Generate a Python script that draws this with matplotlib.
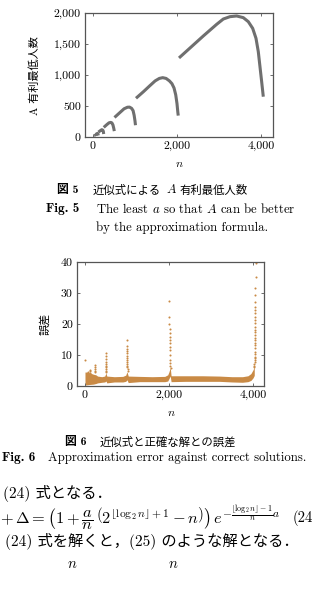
"""
図5・図6 の再現（近似式による A 有利最低人数 / 近似式と正確な解との誤差）
"""

import matplotlib
matplotlib.use("Agg")
import matplotlib.pyplot as plt

W, H = 313, 589

plt.rcParams['mathtext.fontset'] = 'cm'
plt.rcParams['axes.formatter.use_mathtext'] = True

ROMAN = ['cmr10', 'Noto Sans CJK JP']
BOLD = ['cmb10', 'Noto Sans CJK JP']
CJK = ['Noto Sans CJK JP', 'cmr10']

# ---- 図5 データ：各区間 [2^k, 2^(k+1)) の A 有利最低人数 ----
n_32 = [32, 45, 55, 62]
a_32 = [20, 26, 27, 12]
n_64 = [64, 85, 105, 118, 127]
a_64 = [39, 50, 58, 50, 24]
n_128 = [128, 170, 210, 232, 246, 255]
a_128 = [78, 100, 118, 112, 92, 48]
n_256 = [256, 330, 380, 420, 450, 475, 495, 508]
a_256 = [155, 200, 228, 236, 228, 195, 140, 95]
n_512 = [512, 650, 740, 820, 870, 920, 955, 980, 1000, 1012]
a_512 = [315, 400, 455, 480, 482, 462, 425, 350, 260, 190]
n_1024 = [1024, 1200, 1350, 1480, 1580, 1660, 1740, 1820, 1880, 1930, 1970, 2000, 2020, 2030]
a_1024 = [625, 730, 825, 905, 945, 957, 945, 905, 860, 790, 680, 540, 400, 345]
n_2048 = [2048, 2626, 2944, 3103, 3262, 3421, 3579, 3698, 3802, 3881, 3936, 3976, 4016, 4055]
a_2048 = [1275, 1629, 1817, 1903, 1941, 1952, 1925, 1860, 1753, 1592, 1376, 1134, 892, 650]
segments = [(n_32, a_32), (n_64, a_64), (n_128, a_128), (n_256, a_256),
            (n_512, a_512), (n_1024, a_1024), (n_2048, a_2048)]

# ---- 図6 データ：誤差の帯（下限・上限）と 2^k 直前の立ち上がり ----
band_n = [0, 60, 120, 200, 260, 300, 400, 470, 500, 520, 700, 900, 970, 1000,
          1030, 1300, 1600, 1900, 1970, 2000, 2030, 2050, 2400, 2800, 3200,
          3500, 3750, 3880, 3950, 4000, 4030]
band_lo = [0.3, 0.4, 0.5, 0.6, 0.8, 1.0, 1.2, 1.3, 1.6, 1.0, 1.3, 1.3, 1.5, 2.0,
           1.1, 1.4, 1.4, 1.4, 1.6, 2.4, 3.2, 1.4, 1.5, 1.5, 1.5,
           1.3, 1.2, 1.4, 1.8, 2.6, 3.4]
band_hi = [4.5, 4.5, 4.2, 3.8, 3.6, 3.2, 3.0, 3.2, 4.2, 3.2, 3.0, 3.1, 3.5, 4.6,
           3.2, 3.1, 3.0, 3.1, 3.6, 4.6, 6.0, 3.3, 3.3, 3.3, 3.2,
           3.0, 3.0, 3.3, 4.0, 5.2, 6.2]

spike_n = ([10] + [64, 66] + [120, 122, 124] + [236, 238, 240, 242, 244]
           + [496, 498, 500, 502, 504, 505, 506, 507, 508, 509]
           + [990, 992, 994, 996, 998, 1000, 1002, 1004, 1006, 1008, 1010, 1012, 1014, 1016]
           + [2008, 2010, 2012, 2014, 2016, 2018, 2020, 2022, 2024, 2026, 2028, 2030, 2032, 2034, 2036]
           + [4080, 4060, 4058, 4056, 4054, 4052, 4050, 4050, 4048, 4048, 4046, 4046, 4045,
              4044, 4044, 4043, 4042, 4042, 4041, 4040, 4040, 4039, 4038, 4038, 4037,
              4036, 4035, 4034, 4033])
spike_err = ([8.4] + [4.6, 4.0] + [5.3, 4.8, 4.3] + [6.8, 6.0, 5.4, 4.9, 4.4]
             + [10.5, 9.6, 8.7, 7.9, 7.2, 6.6, 6.0, 5.4, 4.9, 4.4]
             + [14.8, 12.8, 12.0, 11.3, 10.6, 9.8, 9.1, 8.5, 7.8, 7.2, 6.6, 6.0, 5.4, 4.8]
             + [27.5, 22.4, 20.0, 18.4, 17.0, 15.7, 14.8, 13.8, 12.7, 11.6, 10.0, 8.4, 7.4, 6.5, 5.8]
             + [39.8, 35.3, 31.5, 29.4, 27.2, 25.6, 24.5, 23.5, 22.4, 21.3, 20.2, 19.1, 18.1,
                17.3, 16.5, 15.6, 14.8, 14.0, 13.2, 12.2, 11.1, 10.2, 9.4, 8.9, 8.3,
                7.8, 7.2, 6.6, 6.0])

x_ticks = [0, 2000, 4000]
x_ticklabels = ['0', '2,000', '4,000']
y1_ticks = [0, 500, 1000, 1500, 2000]
y1_ticklabels = ['0', '500', '1,000', '1,500', '2,000']
y2_ticks = [0, 10, 20, 30, 40]
y2_ticklabels = ['0', '10', '20', '30', '40']

LINE_GRAY = '#6f6f6f'
ORANGE = '#c98a45'
FRAME = '#555555'


def fx(x):
    return x / W


def fy(y):
    return 1 - y / H


def style_axes(ax, yticks, yticklabels):
    ax.set_xticks(x_ticks)
    ax.set_xticklabels(x_ticklabels, family=ROMAN, fontsize=8.5)
    ax.set_yticks(yticks)
    ax.set_yticklabels(yticklabels, family=ROMAN, fontsize=8.5)
    ax.tick_params(direction='in', length=2.5, width=0.6, color=FRAME,
                   top=True, right=True, pad=3)
    for s in ax.spines.values():
        s.set_color(FRAME)
        s.set_linewidth(0.9)


fig = plt.figure(figsize=(W / 100, H / 100), dpi=100)
fig.patch.set_facecolor('white')

# 図5
ax1 = fig.add_axes([fx(85), fy(137), (273 - 85) / W, 124 / H])
for n_seg, a_seg in segments:
    ax1.plot(n_seg, a_seg, color=LINE_GRAY, lw=2.2, solid_capstyle='butt')
ax1.set_xlim(-190, 4286)
ax1.set_ylim(0, 2000)
style_axes(ax1, y1_ticks, y1_ticklabels)

fig.text(fx(35), fy(76), 'A 有利最低人数', rotation=90, ha='center', va='center',
         family=ROMAN, fontsize=8)
fig.text(fx(179), fy(163), '$n$', ha='center', va='center', fontsize=8.5)

# 図6
ax2 = fig.add_axes([fx(77), fy(386), (264 - 77) / W, 124 / H])
ax2.fill_between(band_n, band_lo, band_hi, color=ORANGE, lw=0)
ax2.scatter(spike_n, spike_err, s=2.2, color=ORANGE, lw=0, clip_on=False)
ax2.set_xlim(-190, 4262)
ax2.set_ylim(0, 40)
style_axes(ax2, y2_ticks, y2_ticklabels)

fig.text(fx(45), fy(324), '誤差', rotation=90, ha='center', va='center',
         family=CJK, fontsize=8)
fig.text(fx(171), fy(413), '$n$', ha='center', va='center', fontsize=8.5)

# キャプション
fig.text(fx(57), fy(190), '図 5', family=BOLD, fontweight='bold', fontsize=8.5, va='center')
fig.text(fx(93), fy(190), '近似式による', family=CJK, fontsize=8.2, va='center')
fig.text(fx(166), fy(190), '$A$', fontsize=9, va='center')
fig.text(fx(180), fy(190), '有利最低人数', family=CJK, fontsize=8.2, va='center')
fig.text(fx(46), fy(209), 'Fig. 5', family=BOLD, fontsize=9.5, va='center')
fig.text(fx(96), fy(209), 'The least $a$ so that $A$ can be better', family='cmr10',
         fontsize=9.2, va='center')
fig.text(fx(96), fy(228), 'by the approximation formula.', family='cmr10',
         fontsize=9.2, va='center')

fig.text(fx(65), fy(442), '図 6', family=BOLD, fontweight='bold', fontsize=8.5, va='center')
fig.text(fx(100), fy(442), '近似式と正確な解との誤差', family=CJK, fontsize=8.2, va='center')
fig.text(fx(2), fy(458), 'Fig. 6', family=BOLD, fontsize=9.5, va='center')
fig.text(fx(48), fy(458), 'Approximation error against correct solutions.', family='cmr10',
         fontsize=9.2, va='center')

# 本文
fig.text(fx(3), fy(493), '(24) 式となる．', family=ROMAN, fontsize=11, va='center')
fig.text(fx(0), fy(518),
         r'$+\,\Delta = \left(1+\dfrac{a}{n}\,\left(2^{\lfloor\log_2 n\rfloor+1}-n\right)\right)'
         r'\,e^{-\frac{\lfloor\log_2 n\rfloor-1}{n}a}$',
         family='cmr10', fontsize=11.8, va='center')
fig.text(fx(293), fy(518), '(24', family=ROMAN, fontsize=10.5, va='center')
fig.text(fx(5), fy(542), '(24) 式を解くと，(25) のような解となる．', family=ROMAN,
         fontsize=11, va='center')
fig.text(fx(72), fy(564), '$n$', fontsize=10.5, va='center', ha='center')
fig.text(fx(173), fy(564), '$n$', fontsize=10.5, va='center', ha='center')

fig.savefig('out.png', dpi=100, facecolor='white')
plt.close(fig)
